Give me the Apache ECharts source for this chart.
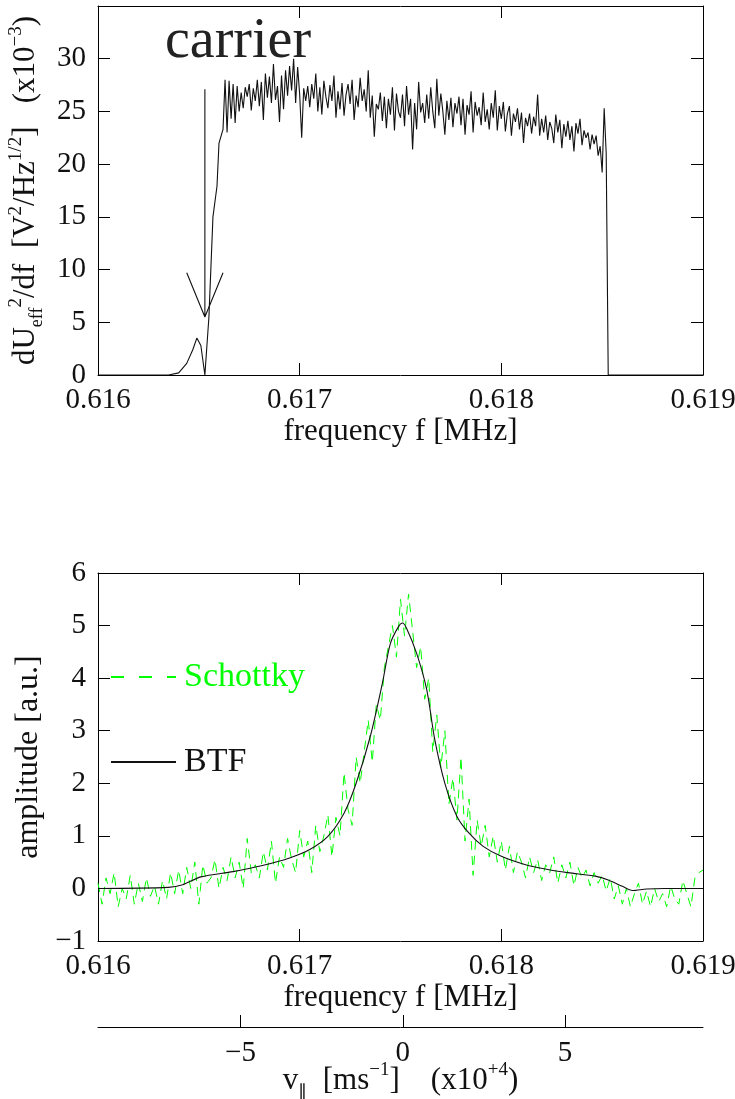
<!DOCTYPE html>
<html><head><meta charset="utf-8">
<script src="https://cdn.jsdelivr.net/npm/echarts@6/dist/echarts.min.js"></script>
<style>html,body{margin:0;padding:0;background:#fff}#c{width:735px;height:1099px}</style>
</head><body><div id="c"></div>
<script>
const FONT = 'Liberation Serif';
const INK = '#111';

// ---- tick labels ----
const freqTicks = [0.616, 0.617, 0.618, 0.619];
const topYTicks = [0, 5, 10, 15, 20, 25, 30];
const botYTicks = [-1, 0, 1, 2, 3, 4, 5, 6];
const velTicks = [-5, 0, 5];
const velRange = [-9.39, 9.25];

// ---- top panel: carrier spectrum ----
const riseFreq = [0.616, 0.61635, 0.61640, 0.61644, 0.61647, 0.61649, 0.61651, 0.61653, 0.61655, 0.61657, 0.61659, 0.61660, 0.61662, 0.61663];
const riseAmp  = [0, 0, 0.2, 1.1, 2.4, 3.5, 2.8, 0, 5.5, 15.0, 17.9, 22.0, 23.3, 28.0];
const plateauStart = 0.61664, plateauStep = 0.00001;
const plateauAmp = [
  23.0, 27.9, 24.3, 27.6, 23.9, 27.4, 25.0, 26.8, 25.3, 27.3,
  26.4, 27.6, 25.1, 27.2, 26.0, 28.0, 25.5, 27.8, 24.2, 28.6,
  26.3, 28.3, 25.8, 29.5, 26.1, 27.4, 24.0, 28.4, 25.2, 28.9,
  26.5, 29.3, 27.0, 30.0, 25.8, 29.2, 26.6, 22.5, 27.2, 26.0,
  27.4, 25.4, 27.6, 26.2, 28.6, 25.0, 27.3, 24.7, 27.9, 26.4,
  25.3, 27.5, 26.0, 28.4, 24.4, 26.9, 25.2, 27.7, 24.6, 26.6,
  27.6, 25.7, 28.0, 24.2, 26.5, 25.4, 28.2, 26.0, 27.1, 25.0,
  28.9, 24.4, 26.5, 22.6, 25.7, 25.2, 26.8, 24.1, 26.4, 23.4,
  26.2, 24.7, 27.3, 23.2, 26.7, 25.0, 24.4, 26.6, 23.6, 27.4,
  24.7, 26.2, 21.4, 25.8, 23.3, 27.8, 24.9, 25.8, 23.9, 26.6,
  24.3, 27.3, 25.0, 23.4, 28.1, 24.6, 26.7, 25.0, 22.8, 26.0,
  24.2, 26.3, 23.5, 25.8, 24.8, 26.4, 23.7, 26.2, 22.8, 25.6,
  24.7, 26.9, 23.0, 25.9, 24.6, 25.4, 23.7, 26.8, 24.0, 25.2,
  23.3, 25.8, 24.4, 27.0, 23.2, 25.5, 24.3, 25.9, 23.1, 24.8,
  25.5, 22.7, 24.8, 24.0, 25.3, 23.3, 24.9, 22.0, 24.4, 23.6,
  24.8, 22.9, 24.5, 23.6, 26.6, 22.7, 24.3, 23.0, 24.6, 22.3,
  24.0, 23.4, 22.0, 24.7, 23.0, 24.2, 21.5, 23.8, 22.6, 24.1,
  22.3, 23.6, 21.2, 23.9, 22.9, 24.3, 21.8, 23.2, 22.5, 23.0,
  21.4, 22.8, 21.9, 22.7, 20.8, 21.7, 19.2
];
const fallFreq = [0.61851, 0.61852, 0.61853, 0.619];
const fallAmp  = [25.3, 21.0, 0, 0];
// carrier arrow annotation
const arrowFreq = [0.61653, 0.61653, 0.61644, 0.61653, 0.61662];
const arrowAmp  = [27.1, 5.5, 9.7, 5.5, 9.7];

// ---- bottom panel: BTF and Schottky ----
const btfFreq = [0.616, 0.61635, 0.61642, 0.61651, 0.61667, 0.61681, 0.61695, 0.61705, 0.61714, 0.61722, 0.61728, 0.61735, 0.61741, 0.61745, 0.61749, 0.61751, 0.61753, 0.61758, 0.61763, 0.61767, 0.61772, 0.61778, 0.61784, 0.61791, 0.61800, 0.61812, 0.61823, 0.61833, 0.61847, 0.61853, 0.61860, 0.61865, 0.61872, 0.61881, 0.619];
const btfAmp  = [0, 0.02, 0.07, 0.22, 0.32, 0.43, 0.58, 0.74, 0.99, 1.43, 2.0, 2.89, 3.90, 4.66, 4.98, 5.05, 4.95, 4.47, 3.78, 2.83, 2.0, 1.37, 1.05, 0.80, 0.61, 0.45, 0.36, 0.30, 0.23, 0.16, 0.04, -0.04, -0.01, 0, 0];
const schottkyStart = 0.616, schottkyStep = 0.00002;
const schottkyAmp = [
  0.1, -0.3, 0.2, -0.1, 0.3, -0.35, 0.0, -0.2, 0.25, -0.3, 0.1, -0.25, 0.2, -0.15, 0.05, -0.3, 0.15, -0.2, 0.3, -0.1,
  0.35, -0.1, 0.4, 0.0, 0.5, -0.3, 0.45, 0.1, 0.2, 0.55, 0.0, 0.4, 0.15, 0.6, 0.2, 0.5, 0.0, 0.95, 0.3, 0.45,
  0.2, 0.7, 0.35, 0.9, 0.1, 0.6, 0.4, 0.95, 0.55, 0.3, 1.1, 0.6, 0.9, 0.3, 1.2, 0.7, 1.0, 1.4, 0.6, 1.35,
  1.0, 2.2, 1.5, 1.2, 2.5, 2.0, 2.6, 3.2, 2.4, 3.5,
  3.2, 4.2, 4.6, 5.0, 4.4, 5.5, 4.8, 5.6, 4.9, 4.2,
  4.6, 3.6, 4.0, 2.6, 3.3, 2.3, 3.0, 1.6, 2.1, 1.3,
  2.5, 0.9, 1.7, 0.25, 1.3, 0.8, 1.2, 0.6, 1.0, 0.5,
  0.9, 0.35, 0.8, 0.3, 0.7, 0.5, 0.2, 0.6, 0.3, 0.55, 0.15, 0.45, 0.3, 0.6, 0.1, 0.45, 0.2, 0.5, 0.05, 0.4,
  0.2, 0.35, 0.05, 0.3, 0.1, 0.25, -0.05, 0.2, -0.2, 0.05,
  -0.3, 0.0, -0.35, -0.1, 0.1, -0.3, -0.05, -0.35, 0.0, -0.25, -0.1, -0.35, 0.05, -0.2, -0.3, 0.15, -0.1, -0.35, 0.2, 0.3, 0.35
];

// ---- build series data ----
const pairs = (xs, ys) => xs.map((x, i) => [x, ys[i]]);
const grid = (start, step, ys) => ys.map((y, i) => [+(start + i * step).toFixed(6), y]);
const topData = pairs(riseFreq, riseAmp).concat(grid(plateauStart, plateauStep, plateauAmp), pairs(fallFreq, fallAmp));
const arrowData = pairs(arrowFreq, arrowAmp);
const btfData = pairs(btfFreq, btfAmp);
const schottkyData = grid(schottkyStart, schottkyStep, schottkyAmp);

const minus = v => (v < 0 ? '\u2212' + Math.abs(v) : String(v));
const lineBlack = { color: '#000', width: 1 };
const tickCfg = { show: true, inside: true, length: 12, lineStyle: { color: '#000', width: 1 } };
const lblBase = { fontFamily: FONT, fontSize: 29, color: INK };
const nameRich = (size) => ({
  t:  { fontFamily: FONT, fontSize: size, color: INK, lineHeight: 40 },
  sb: { fontFamily: FONT, fontSize: 18, color: INK, verticalAlign: 'bottom', lineHeight: 22 },
  sp: { fontFamily: FONT, fontSize: 19, color: INK, verticalAlign: 'top', lineHeight: 22 }
});

function freqAxis(gi, pos, withLabels, name) {
  return {
    type: 'value', gridIndex: gi, position: pos, min: freqTicks[0], max: freqTicks[freqTicks.length - 1], interval: 0.001,
    axisLine: { show: true, onZero: false, lineStyle: lineBlack },
    axisTick: tickCfg, splitLine: { show: false },
    axisLabel: Object.assign({ show: withLabels, margin: 11, showMinLabel: true, showMaxLabel: true,
      formatter: v => v.toFixed(3) }, lblBase),
    name: name || '', nameLocation: 'middle', nameGap: 40,
    nameTextStyle: { fontFamily: FONT, fontSize: 31, color: INK }
  };
}
function ampAxis(gi, pos, ticks, withLabels, extra) {
  return Object.assign({
    type: 'value', gridIndex: gi, position: pos, min: ticks[0], interval: ticks[1] - ticks[0],
    axisLine: { show: true, onZero: false, lineStyle: lineBlack },
    axisTick: tickCfg, splitLine: { show: false },
    axisLabel: Object.assign({ show: withLabels, margin: 12,
      formatter: v => (ticks.indexOf(Math.round(v)) >= 0 ? minus(Math.round(v)) : '') }, lblBase)
  }, extra || {});
}

const option = {
  animation: false,
  backgroundColor: '#fff',
  textStyle: { fontFamily: FONT },
  title: { text: 'carrier', left: 160, top: 9,
    textStyle: { fontFamily: FONT, fontSize: 56, fontWeight: 'normal', color: '#222' } },
  legend: {
    orient: 'vertical', left: 105, top: 652, itemWidth: 65, itemHeight: 20, itemGap: 45,
    itemStyle: { opacity: 0 },
    textStyle: { fontFamily: FONT, fontSize: 34, color: INK, lineHeight: 40, padding: [0, 0, 0, 3] },
    data: [
      { name: 'Schottky', textStyle: { color: '#00ff00' }, lineStyle: { type: [13, 15] }, itemStyle: { opacity: 0 } },
      { name: 'BTF', textStyle: { color: INK }, itemStyle: { opacity: 0 } }
    ]
  },
  grid: [
    { left: 98, top: 6, width: 605, height: 369, outerBoundsMode: 'none', containLabel: false },
    { left: 98, top: 573, width: 605, height: 368, outerBoundsMode: 'none', containLabel: false }
  ],
  xAxis: [
    freqAxis(0, 'bottom', true, 'frequency f [MHz]'),
    freqAxis(0, 'top', false),
    freqAxis(1, 'bottom', true, 'frequency f [MHz]'),
    freqAxis(1, 'top', false),
    {
      type: 'value', gridIndex: 1, position: 'bottom', offset: 86, min: velRange[0], max: velRange[1],
      axisLine: { show: true, onZero: false, lineStyle: lineBlack },
      axisTick: Object.assign({ customValues: velTicks }, tickCfg),
      splitLine: { show: false },
      axisLabel: Object.assign({ margin: 12, customValues: velTicks, formatter: v => minus(v) }, lblBase),
      name: '{t|v}{sb|\u2225}{t|  [ms}{sp|\u22121}{t|]    (x10}{sp|+4}{t|)}',
      nameLocation: 'middle', nameGap: 34, nameMoveOverlap: false,
      nameTextStyle: { fontFamily: FONT, fontSize: 31, color: INK, rich: nameRich(31) }
    }
  ],
  yAxis: [
    ampAxis(0, 'left', topYTicks, true, {
      max: 35,
      name: '{t|dU}{sb|eff}{sp|2}{t|/df  [V}{sp|2}{t|/Hz}{sp|1/2}{t|]   (x10}{sp|\u22123}{t|)}',
      nameLocation: 'middle', nameRotate: 90, nameGap: 48,
      nameTextStyle: { fontFamily: FONT, fontSize: 31, color: INK, rich: nameRich(31) }
    }),
    ampAxis(0, 'right', topYTicks, false, { max: 35 }),
    ampAxis(1, 'left', botYTicks, true, {
      max: 6, name: 'amplitude [a.u.]', nameLocation: 'middle', nameRotate: 90, nameGap: 48,
      nameTextStyle: { fontFamily: FONT, fontSize: 32, color: INK }
    }),
    ampAxis(1, 'right', botYTicks, false, { max: 6 })
  ],
  series: [
    { name: 'carrier spectrum', type: 'line', xAxisIndex: 0, yAxisIndex: 0, data: topData,
      symbol: 'none', lineStyle: { color: '#111', width: 1.1 }, z: 3 },
    { name: 'arrow', type: 'line', xAxisIndex: 0, yAxisIndex: 0, data: arrowData,
      symbol: 'none', lineStyle: { color: '#111', width: 1.1 }, z: 4 },
    { name: 'Schottky', type: 'line', xAxisIndex: 2, yAxisIndex: 2, data: schottkyData,
      symbol: 'none', color: '#00ff00', lineStyle: { color: '#00ff00', width: 1, type: [9, 6] }, z: 2 },
    { name: 'BTF', type: 'line', xAxisIndex: 2, yAxisIndex: 2, data: btfData, smooth: 0.3,
      symbol: 'none', color: '#111', lineStyle: { color: '#111', width: 1.1 }, z: 3 }
  ]
};
const chart = echarts.init(document.getElementById('c'), null, { renderer: 'canvas' });
chart.setOption(option);
</script>
</body></html>
